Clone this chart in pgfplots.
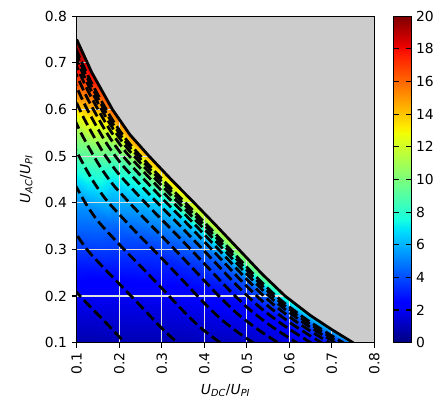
\documentclass[border=0pt]{standalone}
\usepackage{fontspec}
\setmainfont{DejaVu Sans}
\usepackage{pgfplots}
\pgfplotsset{compat=1.18}
\pgfkeys{/pgf/number format/assume math mode=true}
\definecolor{bggray}{RGB}{204,204,204}
\definecolor{gridc}{RGB}{225,225,225}
\pgfplotsset{
  colormap={mpljet}{rgb(0cm)=(0,0,0.5) rgb(11cm)=(0,0,1) rgb(12.5cm)=(0,0,1)
    rgb(34cm)=(0,0.86,1) rgb(35cm)=(0,0.9,0.968) rgb(37.5cm)=(0.081,1,0.887)
    rgb(64cm)=(0.935,1,0.032) rgb(65cm)=(0.968,0.963,0) rgb(66cm)=(1,0.926,0)
    rgb(89cm)=(1,0.074,0) rgb(91cm)=(0.909,0,0) rgb(100cm)=(0.5,0,0)},
  ctr/.style={black, line width=2pt, dash pattern=on 7.4pt off 3.2pt, smooth, forget plot},
  gl/.style={gridc, line width=0.8pt, forget plot},
}
\begin{document}
\begin{tikzpicture}
\begin{axis}[
    scale only axis,
    width=214.6pt, height=235.4pt,
    xmin=0.1, xmax=0.8, ymin=0.1, ymax=0.8,
    xtick={0.1,0.2,0.3,0.4,0.5,0.6,0.7,0.8},
    ytick={0.1,0.2,0.3,0.4,0.5,0.6,0.7,0.8},
    xticklabel style={rotate=90, anchor=east},
    tick align=outside, xtick pos=bottom, ytick pos=left,
    major tick length=3.5pt,
    every tick/.style={black, line width=0.8pt},
    axis line style={line width=0.8pt},
    axis on top,
    xlabel={\textit{U}\textsubscript{\textit{DC}}/\textit{U}\textsubscript{\textit{PI}}},
    ylabel={\textit{U}\textsubscript{\textit{AC}}/\textit{U}\textsubscript{\textit{PI}}},
    ylabel style={yshift=2pt},
    colormap name=mpljet,
    point meta min=0, point meta max=20,
    colorbar,
    colorbar/width=12.4pt,
    colorbar style={
        at={(parent axis.north east)}, anchor=north west, xshift=5.5pt,
        ytick={0,2,4,6,8,10,12,14,16,18,20},
        major tick length=3.5pt,
        every tick/.style={black, line width=0.8pt},
        axis line style={line width=0.8pt},
    },
]
% colour field, one scan line per column under the limit curve
\addplot[surf, shader=interp, mesh/cols=8, point meta=explicit, forget plot]
table[x=x, y=y, meta=c] {
x y c
0.100 0.1000 0.8
0.100 0.2625 2.9
0.100 0.4250 6.0
0.100 0.5550 11.0
0.100 0.6330 15.4
0.100 0.6850 17.9
0.100 0.7175 19.0
0.100 0.7500 20.0
0.135 0.1000 0.8
0.135 0.2450 2.6
0.135 0.3900 5.4
0.135 0.5060 9.4
0.135 0.5756 13.0
0.135 0.6220 15.5
0.135 0.6510 16.9
0.135 0.6800 18.6
0.184 0.1000 0.9
0.184 0.2250 2.3
0.184 0.3500 4.5
0.184 0.4500 7.1
0.184 0.5100 9.6
0.184 0.5500 12.1
0.184 0.5750 14.0
0.184 0.6000 16.6
0.225 0.1000 0.9
0.225 0.2115 2.15
0.225 0.3230 4.0
0.225 0.4122 6.2
0.225 0.4657 8.2
0.225 0.5014 10.8
0.225 0.5237 13.0
0.225 0.5460 15.6
0.270 0.1000 0.9
0.270 0.2000 2.05
0.270 0.3000 3.6
0.270 0.3800 5.7
0.270 0.4280 7.5
0.270 0.4600 10.3
0.270 0.4800 12.7
0.270 0.5000 15.0
0.323 0.1000 0.92
0.323 0.1873 1.98
0.323 0.2745 3.24
0.323 0.3443 5.06
0.323 0.3862 6.9
0.323 0.4141 10.0
0.323 0.4316 12.2
0.323 0.4490 14.2
0.376 0.1000 0.98
0.376 0.1750 1.92
0.376 0.2500 3.08
0.376 0.3100 4.54
0.376 0.3460 6.6
0.376 0.3700 9.3
0.376 0.3850 11.3
0.376 0.4000 13.0
0.430 0.1000 1.06
0.430 0.1623 1.9
0.430 0.2245 2.94
0.430 0.2743 4.3
0.430 0.3042 6.5
0.430 0.3241 9.0
0.430 0.3366 10.8
0.430 0.3490 12.2
0.481 0.1000 1.16
0.481 0.1500 1.9
0.481 0.2000 2.82
0.481 0.2400 4.3
0.481 0.2640 6.6
0.481 0.2800 8.9
0.481 0.2900 10.4
0.481 0.3000 11.6
0.535 0.1000 1.34
0.535 0.1370 1.97
0.535 0.1740 2.84
0.535 0.2036 4.27
0.535 0.2214 6.2
0.535 0.2332 8.2
0.535 0.2406 9.5
0.535 0.2480 10.5
0.590 0.1000 1.56
0.590 0.1250 2.08
0.590 0.1500 2.89
0.590 0.1700 4.21
0.590 0.1820 5.42
0.590 0.1900 6.9
0.590 0.1950 7.8
0.590 0.2000 8.6
0.650 0.1000 2.3
0.650 0.1145 2.85
0.650 0.1290 3.6
0.650 0.1406 4.6
0.650 0.1476 5.45
0.650 0.1522 6.4
0.650 0.1551 7.0
0.650 0.1580 7.6
0.700 0.1000 3.0
0.700 0.1070 3.6
0.700 0.1140 4.3
0.700 0.1196 5.0
0.700 0.1230 5.6
0.700 0.1252 6.1
0.700 0.1266 6.5
0.700 0.1280 6.9
0.750 0.1000 4.5
0.750 0.1000 5.0
0.750 0.1000 5.5
0.750 0.1000 6.0
0.750 0.1000 6.3
0.750 0.1000 6.5
0.750 0.1000 6.8
0.750 0.1000 7.0
};
% grid
\addplot[gl] coordinates {(0.2,0.1) (0.2,0.8)};
\addplot[gl] coordinates {(0.3,0.1) (0.3,0.8)};
\addplot[gl] coordinates {(0.4,0.1) (0.4,0.8)};
\addplot[gl] coordinates {(0.5,0.1) (0.5,0.8)};
\addplot[gl] coordinates {(0.6,0.1) (0.6,0.8)};
\addplot[gl] coordinates {(0.7,0.1) (0.7,0.8)};
\addplot[gl] coordinates {(0.1,0.2) (0.8,0.2)};
\addplot[gl] coordinates {(0.1,0.3) (0.8,0.3)};
\addplot[gl] coordinates {(0.1,0.4) (0.8,0.4)};
\addplot[gl] coordinates {(0.1,0.5) (0.8,0.5)};
\addplot[gl] coordinates {(0.1,0.6) (0.8,0.6)};
\addplot[gl] coordinates {(0.1,0.7) (0.8,0.7)};
% region beyond the limit
\addplot[fill=bggray, draw=none, forget plot] coordinates {
(0.100,0.750) (0.135,0.680) (0.184,0.600) (0.225,0.546) (0.270,0.500)
(0.323,0.449) (0.376,0.400) (0.430,0.349) (0.481,0.300) (0.535,0.248)
(0.590,0.200) (0.650,0.158) (0.700,0.128) (0.750,0.100)
(0.800,0.100) (0.800,0.800) (0.100,0.800)};
% dashed contours
\addplot[ctr] coordinates {(0.0736,0.240) (0.090,0.2184) (0.108,0.200) (0.1292,0.1796) (0.1504,0.160) (0.172,0.1396) (0.1924,0.120) (0.214,0.0992) (0.236,0.080)};
\addplot[ctr] coordinates {(0.055,0.4125) (0.0743,0.374) (0.1012,0.330) (0.1238,0.3003) (0.1485,0.275) (0.1777,0.247) (0.2068,0.220) (0.2365,0.192) (0.2646,0.165) (0.2943,0.1364) (0.3245,0.110) (0.3575,0.0869)};
\addplot[ctr] coordinates {(0.0663,0.4969) (0.0894,0.4505) (0.1219,0.3975) (0.1491,0.3617) (0.1789,0.3313) (0.2140,0.2975) (0.2491,0.2650) (0.2849,0.2312) (0.3187,0.1988) (0.3544,0.1643) (0.3909,0.1325) (0.4306,0.1047) (0.4638,0.0848)};
\addplot[ctr] coordinates {(0.0747,0.5602) (0.1008,0.5079) (0.1374,0.4481) (0.1681,0.4078) (0.2017,0.3735) (0.2412,0.3354) (0.2808,0.2988) (0.3212,0.2607) (0.3593,0.2241) (0.3996,0.1852) (0.4407,0.1494) (0.4855,0.1180) (0.5228,0.0956)};
\addplot[ctr] coordinates {(0.0810,0.6077) (0.1094,0.5509) (0.1491,0.4861) (0.1823,0.4424) (0.2188,0.4051) (0.2617,0.3638) (0.3046,0.3241) (0.3484,0.2828) (0.3897,0.2431) (0.4335,0.2009) (0.4780,0.1620) (0.5266,0.1280) (0.5671,0.1037) (0.6077,0.0810)};
\addplot[ctr] coordinates {(0.0858,0.6432) (0.1158,0.5832) (0.1578,0.5146) (0.1930,0.4682) (0.2316,0.4288) (0.2770,0.3851) (0.3225,0.3430) (0.3688,0.2993) (0.4125,0.2573) (0.4588,0.2127) (0.5060,0.1715) (0.5574,0.1355) (0.6003,0.1098) (0.6432,0.0858)};
\addplot[ctr] coordinates {(0.0893,0.6699) (0.1206,0.6074) (0.1643,0.5359) (0.2010,0.4877) (0.2412,0.4466) (0.2885,0.4010) (0.3358,0.3573) (0.3841,0.3117) (0.4296,0.2680) (0.4779,0.2215) (0.5270,0.1786) (0.5806,0.1411) (0.6252,0.1143) (0.6699,0.0893)};
\addplot[ctr] coordinates {(0.0920,0.6899) (0.1242,0.6255) (0.1693,0.5519) (0.2070,0.5023) (0.2484,0.4600) (0.2971,0.4130) (0.3459,0.3680) (0.3956,0.3210) (0.4425,0.2760) (0.4921,0.2281) (0.5427,0.1840) (0.5979,0.1453) (0.6439,0.1177) (0.6899,0.0920)};
\addplot[ctr] coordinates {(0.0940,0.7049) (0.1269,0.6391) (0.1729,0.5639) (0.2115,0.5132) (0.2538,0.4700) (0.3036,0.4220) (0.3534,0.3760) (0.4042,0.3280) (0.4521,0.2820) (0.5028,0.2331) (0.5545,0.1880) (0.6109,0.1485) (0.6579,0.1203) (0.7049,0.0940)};
\addplot[ctr] coordinates {(0.0955,0.7162) (0.1289,0.6493) (0.1757,0.5729) (0.2149,0.5214) (0.2578,0.4775) (0.3084,0.4288) (0.3590,0.3820) (0.4106,0.3333) (0.4593,0.2865) (0.5109,0.2368) (0.5634,0.1910) (0.6207,0.1509) (0.6684,0.1222) (0.7162,0.0955)};
\addplot[ctr] coordinates {(0.0966,0.7247) (0.1304,0.6570) (0.1778,0.5797) (0.2174,0.5275) (0.2609,0.4831) (0.3121,0.4338) (0.3633,0.3865) (0.4155,0.3372) (0.4647,0.2899) (0.5169,0.2396) (0.5701,0.1932) (0.6280,0.1527) (0.6763,0.1237) (0.7247,0.0966)};
\addplot[ctr] coordinates {(0.0975,0.7310) (0.1316,0.6628) (0.1793,0.5848) (0.2193,0.5322) (0.2632,0.4874) (0.3148,0.4376) (0.3665,0.3899) (0.4191,0.3402) (0.4688,0.2924) (0.5215,0.2417) (0.5751,0.1949) (0.6336,0.1540) (0.6823,0.1248) (0.7310,0.0975)};
% limit curve
\addplot[black, line width=2pt, forget plot] coordinates {
(0.100,0.750) (0.135,0.680) (0.184,0.600) (0.225,0.546) (0.270,0.500)
(0.323,0.449) (0.376,0.400) (0.430,0.349) (0.481,0.300) (0.535,0.248)
(0.590,0.200) (0.650,0.158) (0.700,0.128) (0.750,0.100)};
\end{axis}
% white margin as in the saved figure
\path ([shift={(-11pt,-9pt)}]current bounding box.south west)
      ([shift={(7pt,4.5pt)}]current bounding box.north east);
\end{tikzpicture}
\end{document}
